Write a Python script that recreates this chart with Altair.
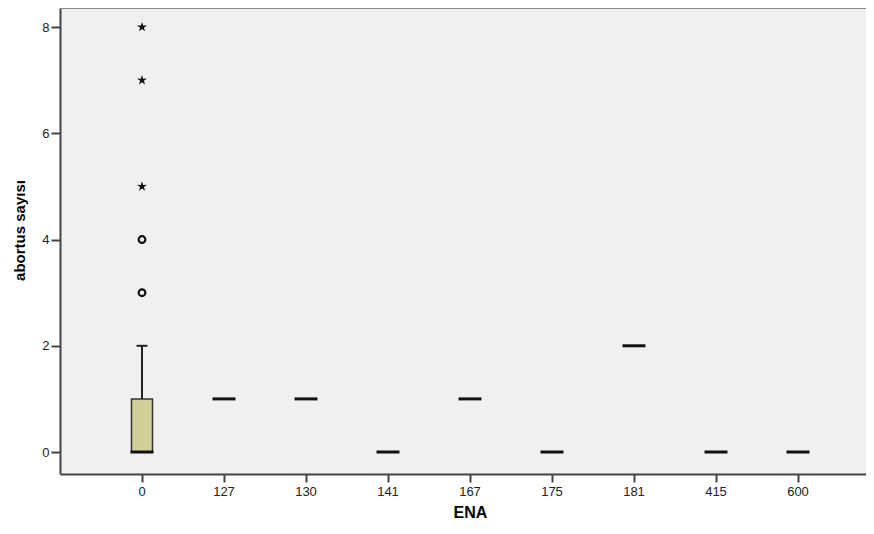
import altair as alt
import pandas as pd

categories = ["0", "127", "130", "141", "167", "175", "181", "415", "600"]
medians = [0, 1, 1, 0, 1, 0, 2, 0, 0]

box_cat = ["0"]
box_q1 = [0]
box_q3 = [1]
whisker_lo = [0]
whisker_hi = [2]

circle_cat = ["0", "0"]
circle_vals = [3, 4]
star_cat = ["0", "0", "0"]
star_vals = [5, 7, 8]

med_df = pd.DataFrame({"ENA": categories, "v": medians})
box_df = pd.DataFrame({"ENA": box_cat, "q1": box_q1, "q3": box_q3,
                       "lo": whisker_lo, "hi": whisker_hi})
circ_df = pd.DataFrame({"ENA": circle_cat, "v": circle_vals})
star_df = pd.DataFrame({"ENA": star_cat, "v": star_vals})

FONT = "Liberation Sans"
W = 806
H = 466

xscale = alt.Scale(domain=categories, range=[0, 820], paddingInner=0, paddingOuter=0.5)
yscale = alt.Scale(domain=[-0.414, 8.36], nice=False, zero=False)

xenc = alt.X("ENA:N", sort=categories, scale=xscale,
             axis=alt.Axis(title="ENA", labelAngle=0, tickSize=8, tickWidth=2,
                           tickColor="#444", domainColor="#444", domainWidth=2,
                           labelFont=FONT, labelFontSize=13, labelColor="#222",
                           labelPadding=3, titleFont=FONT, titleFontSize=16,
                           titleFontWeight="bold", titleColor="#000",
                           titlePadding=6, titleX=410, grid=False))

yaxis = alt.Axis(title="abortus sayısı", values=[0, 2, 4, 6, 8], tickSize=9,
                 tickWidth=2, tickColor="#444", domainColor="#444", domainWidth=2,
                 labelFont=FONT, labelFontSize=13, labelColor="#222",
                 labelPadding=2, titleFont=FONT, titleFontSize=15,
                 titleFontWeight="bold", titleColor="#000", titlePadding=14,
                 titleY=222, grid=False)

whisker = alt.Chart(box_df).mark_rule(color="#222", strokeWidth=2).encode(
    x=xenc,
    y=alt.Y("q3:Q", scale=yscale, axis=yaxis),
    y2="hi:Q",
)
cap = alt.Chart(box_df).mark_tick(color="#222", size=11, thickness=2,
                                  opacity=1).encode(
    x=alt.X("ENA:N", sort=categories, scale=xscale),
    y=alt.Y("hi:Q", scale=yscale),
)
box = alt.Chart(box_df).mark_bar(size=21, color="#d3cf98", stroke="#333",
                                 strokeWidth=1.5).encode(
    x=alt.X("ENA:N", sort=categories, scale=xscale),
    y=alt.Y("q1:Q", scale=yscale),
    y2="q3:Q",
)
med = alt.Chart(med_df).mark_tick(color="#111", size=23, thickness=3,
                                  opacity=1).encode(
    x=alt.X("ENA:N", sort=categories, scale=xscale),
    y=alt.Y("v:Q", scale=yscale),
)
circ = alt.Chart(circ_df).mark_point(shape="circle", size=45, filled=False,
                                     color="#111", strokeWidth=2.2,
                                     opacity=1).encode(
    x=alt.X("ENA:N", sort=categories, scale=xscale),
    y=alt.Y("v:Q", scale=yscale),
)
star_path = ("M0,-1 L0.22,-0.3 L0.95,-0.31 L0.36,0.12 L0.59,0.81 L0,0.38 "
             "L-0.59,0.81 L-0.36,0.12 L-0.95,-0.31 L-0.22,-0.3 Z")
stars = alt.Chart(star_df).mark_point(shape=star_path, size=110, filled=True,
                                      color="#111", opacity=1).encode(
    x=alt.X("ENA:N", sort=categories, scale=xscale),
    y=alt.Y("v:Q", scale=yscale),
)
top_border = alt.Chart(med_df).mark_rule(color="#888", strokeWidth=2).encode(
    x=alt.value(0), x2=alt.value(W), y=alt.value(0)
)

chart = alt.layer(whisker, cap, box, med, circ, stars, top_border).properties(
    width=W, height=H,
    autosize=alt.AutoSizeParams(type="none"),
    padding={"left": 52, "top": 0, "right": 0, "bottom": 48},
).configure_view(fill="#f0f0f0", strokeOpacity=0, strokeWidth=0)

chart.save("out.html", embed_options={"renderer": "svg", "actions": False})
